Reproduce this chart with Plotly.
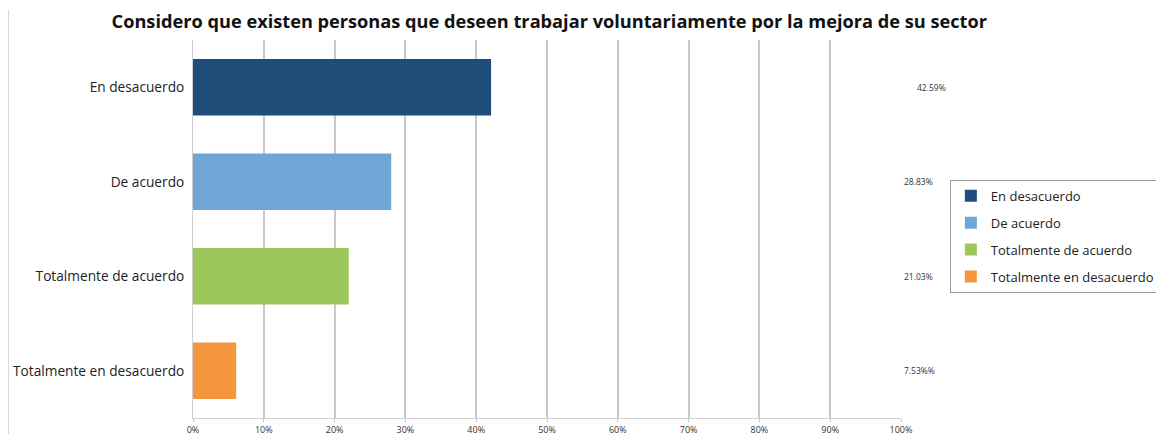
import plotly.graph_objects as go

categories = ["En desacuerdo", "De acuerdo", "Totalmente de acuerdo", "Totalmente en desacuerdo"]
values = [42.1, 28.0, 22.0, 6.1]
value_labels = ["42.59%", "28.83%", "21.03%", "7.53%%"]
colors = ["#1f4e7a", "#6fa6d6", "#9bc75b", "#f5963f"]
tick_vals = [0, 10, 20, 30, 40, 50, 60, 70, 80, 90, 100]
tick_text = [f"{t}%" for t in tick_vals]

fig = go.Figure()
for cat, val, col in zip(categories, values, colors):
    fig.add_trace(go.Bar(
        y=[cat], x=[val], name=cat, orientation="h",
        marker=dict(color=col, line=dict(width=0)),
        legendgroup=cat, width=0.6,
    ))

# percentage labels at the right of the plot (first one sits a bit further right)
for i, (cat, lab) in enumerate(zip(categories, value_labels)):
    fig.add_annotation(
        x=1.0, xref="paper", y=cat, yref="y", text=lab, showarrow=False,
        xanchor="left", xshift=14 if i == 0 else 1,
        font=dict(size=8.5, color="#333333"),
    )

# the page body adds an 8px offset, margins compensate for it
fig.update_layout(
    width=1164, height=434,
    margin=dict(l=185, r=271, t=32, b=24),
    paper_bgcolor="white", plot_bgcolor="white",
    barmode="overlay",
    font=dict(family="Open Sans, Noto Sans, sans-serif", color="#222222"),
    title=dict(
        text="<b>Considero que existen personas que deseen trabajar voluntariamente por la mejora de su sector</b>",
        x=0.465, xanchor="center", y=0.968, yanchor="middle",
        font=dict(size=18.2, color="#111111"),
    ),
    xaxis=dict(
        range=[0, 100], tickvals=tick_vals, ticktext=tick_text,
        showgrid=True, gridcolor="#c8c8c8", gridwidth=2,
        showline=True, linecolor="#d0d0d0", linewidth=1,
        ticks="outside", ticklen=3, tickcolor="#c4c4c4",
        tickfont=dict(size=9, color="#333333"), zeroline=False,
        automargin=False,
    ),
    yaxis=dict(
        categoryorder="array", categoryarray=categories, autorange="reversed",
        showline=True, linecolor="#d0d0d0", linewidth=1,
        tickfont=dict(size=13.7, color="#222222"), ticks="", ticklabelstandoff=5,
        automargin=False,
    ),
    legend=dict(
        x=1.069, y=0.63, xanchor="left", yanchor="top",
        bordercolor="#9a9a9a", borderwidth=1,
        font=dict(size=13, color="#222222"),
        traceorder="grouped", tracegroupgap=7,
    ),
    shapes=[dict(type="line", xref="paper", yref="paper",
                 x0=-0.2605, x1=-0.2605, y0=-0.05, y1=1.08,
                 line=dict(color="#d8d8d8", width=1))],
)

fig.write_html("out.html")
